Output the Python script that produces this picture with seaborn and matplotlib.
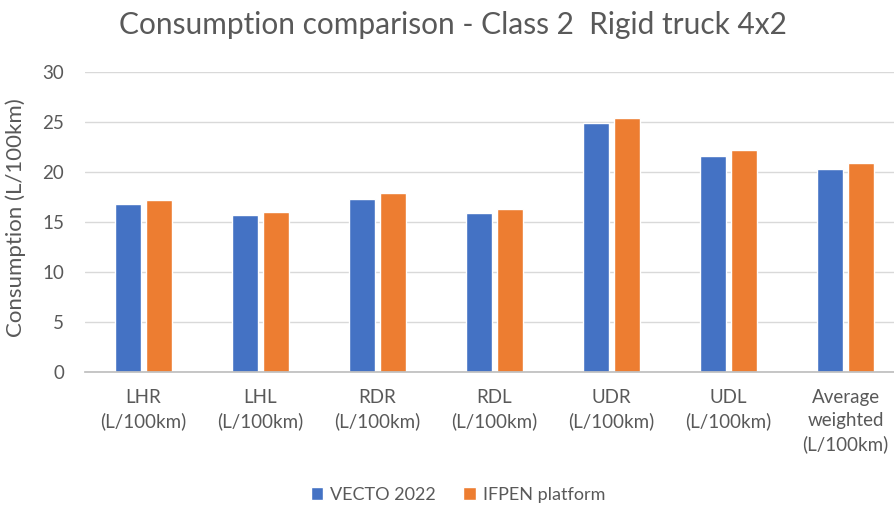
import matplotlib
matplotlib.use("Agg")
import matplotlib.pyplot as plt
import seaborn as sns
import pandas as pd

categories = ["LHR\n(L/100km)", "LHL\n(L/100km)", "RDR\n(L/100km)", "RDL\n(L/100km)",
              "UDR\n(L/100km)", "UDL\n(L/100km)", "Average\nweighted\n(L/100km)"]
vecto = [16.8, 15.7, 17.3, 15.9, 24.9, 21.6, 20.3]
ifpen = [17.2, 16.0, 17.9, 16.3, 25.4, 22.2, 20.9]
series = ["VECTO 2022", "IFPEN platform"]
colors = ["#4472C4", "#ED7D31"]

df = pd.DataFrame({
    "cat": categories * 2,
    "val": vecto + ifpen,
    "series": [series[0]] * len(categories) + [series[1]] * len(categories),
})

sns.set_theme(style="white")
plt.rcParams["font.family"] = ["Lato", "DejaVu Sans"]

fig = plt.figure(figsize=(8.94, 5.08), dpi=100)
ax = fig.add_axes([85 / 894, 136 / 508, 819 / 894, 300 / 508])

sns.barplot(data=df, x="cat", y="val", hue="series", palette=colors, saturation=1,
            width=0.52, gap=0.15, ax=ax, legend=True)

ax.set_ylim(0, 30)
ax.set_xlim(-0.5, 6.5)
ax.set_yticks(range(0, 31, 5))
ax.yaxis.grid(True, color="#d9d9d9", linewidth=1)
ax.set_axisbelow(True)
for s in ["top", "right", "left"]:
    ax.spines[s].set_visible(False)
ax.spines["bottom"].set_color("#bfbfbf")
ax.tick_params(axis="both", length=0, labelsize=13.5, labelcolor="#595959")
ax.tick_params(axis="x", pad=12)
ax.tick_params(axis="y", pad=15)
for lbl in ax.get_xticklabels():
    lbl.set_linespacing(1.42)
ax.set_xlabel("")
ax.set_ylabel("Consumption (L/100km)", fontsize=16, color="#595959")
ax.yaxis.set_label_coords(-0.072, 0.513)

fig.text(453 / 894, 1 - 25 / 508, "Consumption comparison - Class 2  Rigid truck 4x2",
         ha="center", va="center", fontsize=21.5, color="#595959")

ax.legend(loc="center", bbox_to_anchor=(458 / 894, 1 - 495 / 508),
          bbox_transform=fig.transFigure, ncol=2, frameon=False, fontsize=13,
          handlelength=0.7, handleheight=0.7, handletextpad=0.4, columnspacing=1.5,
          labelcolor="#595959")

fig.savefig("out.png", dpi=100)
